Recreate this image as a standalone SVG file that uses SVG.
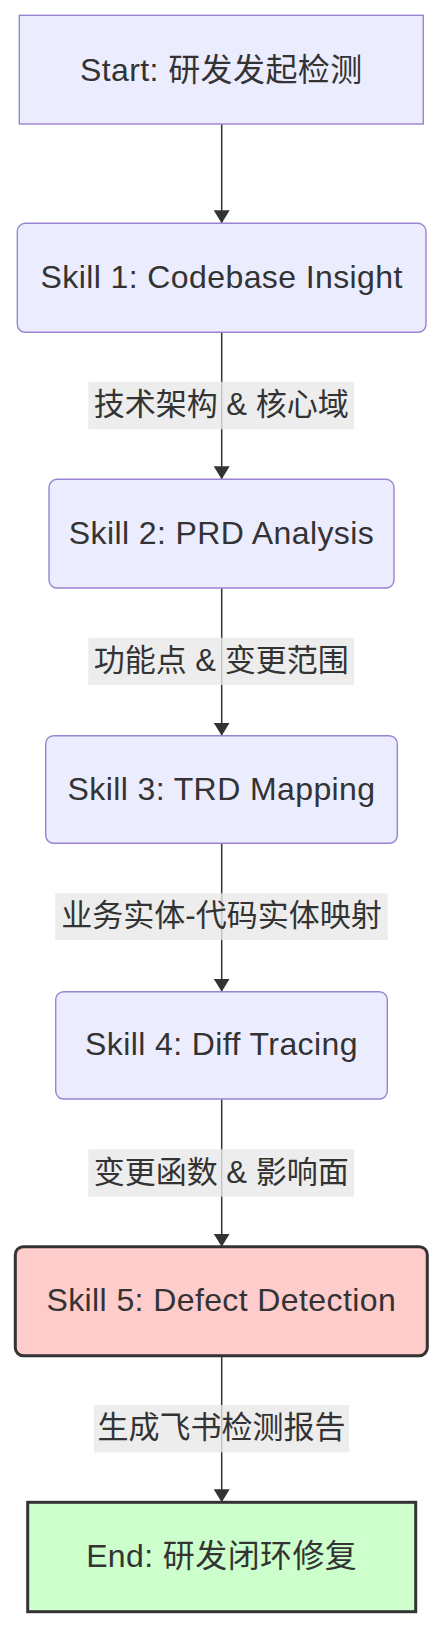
<svg xmlns="http://www.w3.org/2000/svg" width="443" height="1627" viewBox="0 0 443 1627">
<style>
  .node { fill: #ECECFF; stroke: #9a84d2; stroke-width: 1.4; }
  .danger { fill: #ffcccc; stroke: #333333; stroke-width: 3; }
  .done { fill: #ccffcc; stroke: #333333; stroke-width: 3; }
  .ntext { font-family: "Trebuchet MS", "Liberation Sans", "Noto Sans CJK SC", sans-serif; font-size: 32px; letter-spacing: 0.4px; fill: #333333; text-anchor: middle; }
  .edge { stroke: #333333; stroke-width: 1.5; fill: none; marker-end: url(#arrow); }
  .lblbg { fill: #e8e8e8; fill-opacity: 0.8; }
  .ltext { font-family: "Trebuchet MS", "Liberation Sans", "Noto Sans CJK SC", sans-serif; font-size: 31px; fill: #333333; text-anchor: middle; }
</style>
<defs>
  <marker id="arrow" viewBox="0 0 13 16" refX="13" refY="8" markerWidth="13" markerHeight="16" markerUnits="userSpaceOnUse" orient="auto">
    <path d="M0,0 L13,8 L0,16 z" fill="#333333"/>
  </marker>
</defs>
<rect x="0" y="0" width="443" height="1627" fill="#ffffff"/>

<g id="connectors">
  <line class="edge" x1="221.7" y1="124" x2="221.7" y2="223.3"/>
  <line class="edge" x1="221.7" y1="332.3" x2="221.7" y2="479.3"/>
  <line class="edge" x1="221.7" y1="588" x2="221.7" y2="735.7"/>
  <line class="edge" x1="221.7" y1="843.3" x2="221.7" y2="991.7"/>
  <line class="edge" x1="221.7" y1="1099" x2="221.7" y2="1246.7"/>
  <line class="edge" x1="221.7" y1="1355.7" x2="221.7" y2="1502.3"/>
  <g id="label-1">
    <rect class="lblbg" x="88.3" y="381.7" width="265.7" height="47.6"/>
    <text class="ltext" x="221.2" y="415">技术架构 &amp; 核心域</text>
  </g>
  <g id="label-2">
    <rect class="lblbg" x="88.3" y="637.7" width="265.7" height="47.3"/>
    <text class="ltext" x="221.2" y="671">功能点 &amp; 变更范围</text>
  </g>
  <g id="label-3">
    <rect class="lblbg" x="55.3" y="893.3" width="332.4" height="46.7"/>
    <text class="ltext" x="221.5" y="926">业务实体-代码实体映射</text>
  </g>
  <g id="label-4">
    <rect class="lblbg" x="88.3" y="1149.3" width="265.7" height="47.4"/>
    <text class="ltext" x="221.2" y="1182.5">变更函数 &amp; 影响面</text>
  </g>
  <g id="label-5">
    <rect class="lblbg" x="94" y="1405" width="255" height="47.3"/>
    <text class="ltext" x="221.5" y="1438">生成飞书检测报告</text>
  </g>
</g>

<g id="start">
  <rect class="node" x="19.3" y="15.3" width="404" height="108.7"/>
  <text class="ntext" x="221.3" y="80.5">Start: 研发发起检测</text>
</g>
<g id="skill1">
  <rect class="node" x="17.3" y="223.3" width="408.7" height="109" rx="8" ry="8"/>
  <text class="ntext" x="221.7" y="287.5">Skill 1: Codebase Insight</text>
</g>
<g id="skill2">
  <rect class="node" x="49" y="479.3" width="345" height="108.7" rx="8" ry="8"/>
  <text class="ntext" x="221.5" y="544">Skill 2: PRD Analysis</text>
</g>
<g id="skill3">
  <rect class="node" x="45.7" y="735.7" width="351.6" height="107.6" rx="8" ry="8"/>
  <text class="ntext" x="221.5" y="800.3">Skill 3: TRD Mapping</text>
</g>
<g id="skill4">
  <rect class="node" x="55.7" y="991.7" width="331.6" height="107.3" rx="8" ry="8"/>
  <text class="ntext" x="221.5" y="1055">Skill 4: Diff Tracing</text>
</g>
<g id="skill5">
  <rect class="danger" x="15.3" y="1246.7" width="412" height="109" rx="8" ry="8"/>
  <text class="ntext" x="221.3" y="1311">Skill 5: Defect Detection</text>
</g>
<g id="end">
  <rect class="done" x="27.7" y="1502.3" width="388" height="109.4"/>
  <text class="ntext" x="221.7" y="1567.2">End: 研发闭环修复</text>
</g>
</svg>
